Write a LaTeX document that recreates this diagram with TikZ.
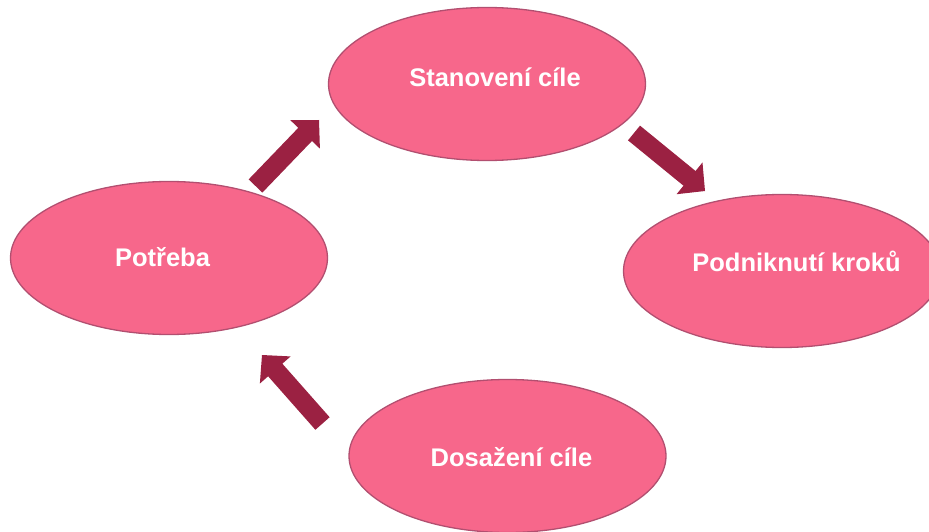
\documentclass[tikz,border=0pt]{standalone}
\usepackage{fontspec}
\setmainfont{Liberation Sans}
\usetikzlibrary{shapes.geometric,calc}
\definecolor{ellfill}{HTML}{F7678B}
\definecolor{elldraw}{HTML}{B24F70}
\definecolor{arrcol}{HTML}{9B2142}
\tikzset{
  stage/.style={ellipse, draw=elldraw, fill=ellfill, line width=1.3pt, inner sep=0pt,
    minimum width=317pt, minimum height=153pt},
  lbl/.style={anchor=base, inner sep=0pt, text=white,
    font=\fontsize{25.5}{30}\selectfont\bfseries},
  shaft/.style={draw=arrcol, line width=19pt, shorten >=19pt},
  headfill/.style={fill=arrcol}
}
\newcommand{\blockarrowdraw}[2]{%
  \draw[shaft] (#1) -- (#2);
  \coordinate (#2-base) at ($(#2)!20pt!(#1)$);
  \fill[headfill] (#2) -- ($(#2-base)!20.5pt!90:(#2)$) -- ($(#2-base)!20.5pt!-90:(#2)$) -- cycle;
}
\begin{document}
\begin{tikzpicture}[x=1pt, y=-1pt]
\useasboundingbox (0,0) rectangle (929,532);
\begin{scope}
\clip (0,0) rectangle (929,532);
\node[stage] (s) at (487,84) {};
\node[stage] (p) at (169,258) {};
\node[stage] (k) at (782,271) {};
\node[stage] (d) at (507.5,456) {};
\end{scope}
\node[lbl] (ts) at (495,87) {Stanovení cíle};
\node[lbl] (tp) at (162.5,266) {Potřeba};
\node[lbl] (tk) at (796.5,271) {Podniknutí kroků};
\node[lbl] (td) at (511.5,466) {Dosažení cíle};
\coordinate (a1s) at (255.5,186);
\coordinate (a1e) at (319,120);
\coordinate (a2s) at (634,133);
\coordinate (a2e) at (705,191);
\coordinate (a3s) at (322.5,423.5);
\coordinate (a3e) at (262,355);
\blockarrowdraw{a1s}{a1e}
\blockarrowdraw{a2s}{a2e}
\blockarrowdraw{a3s}{a3e}
\end{tikzpicture}
\end{document}
